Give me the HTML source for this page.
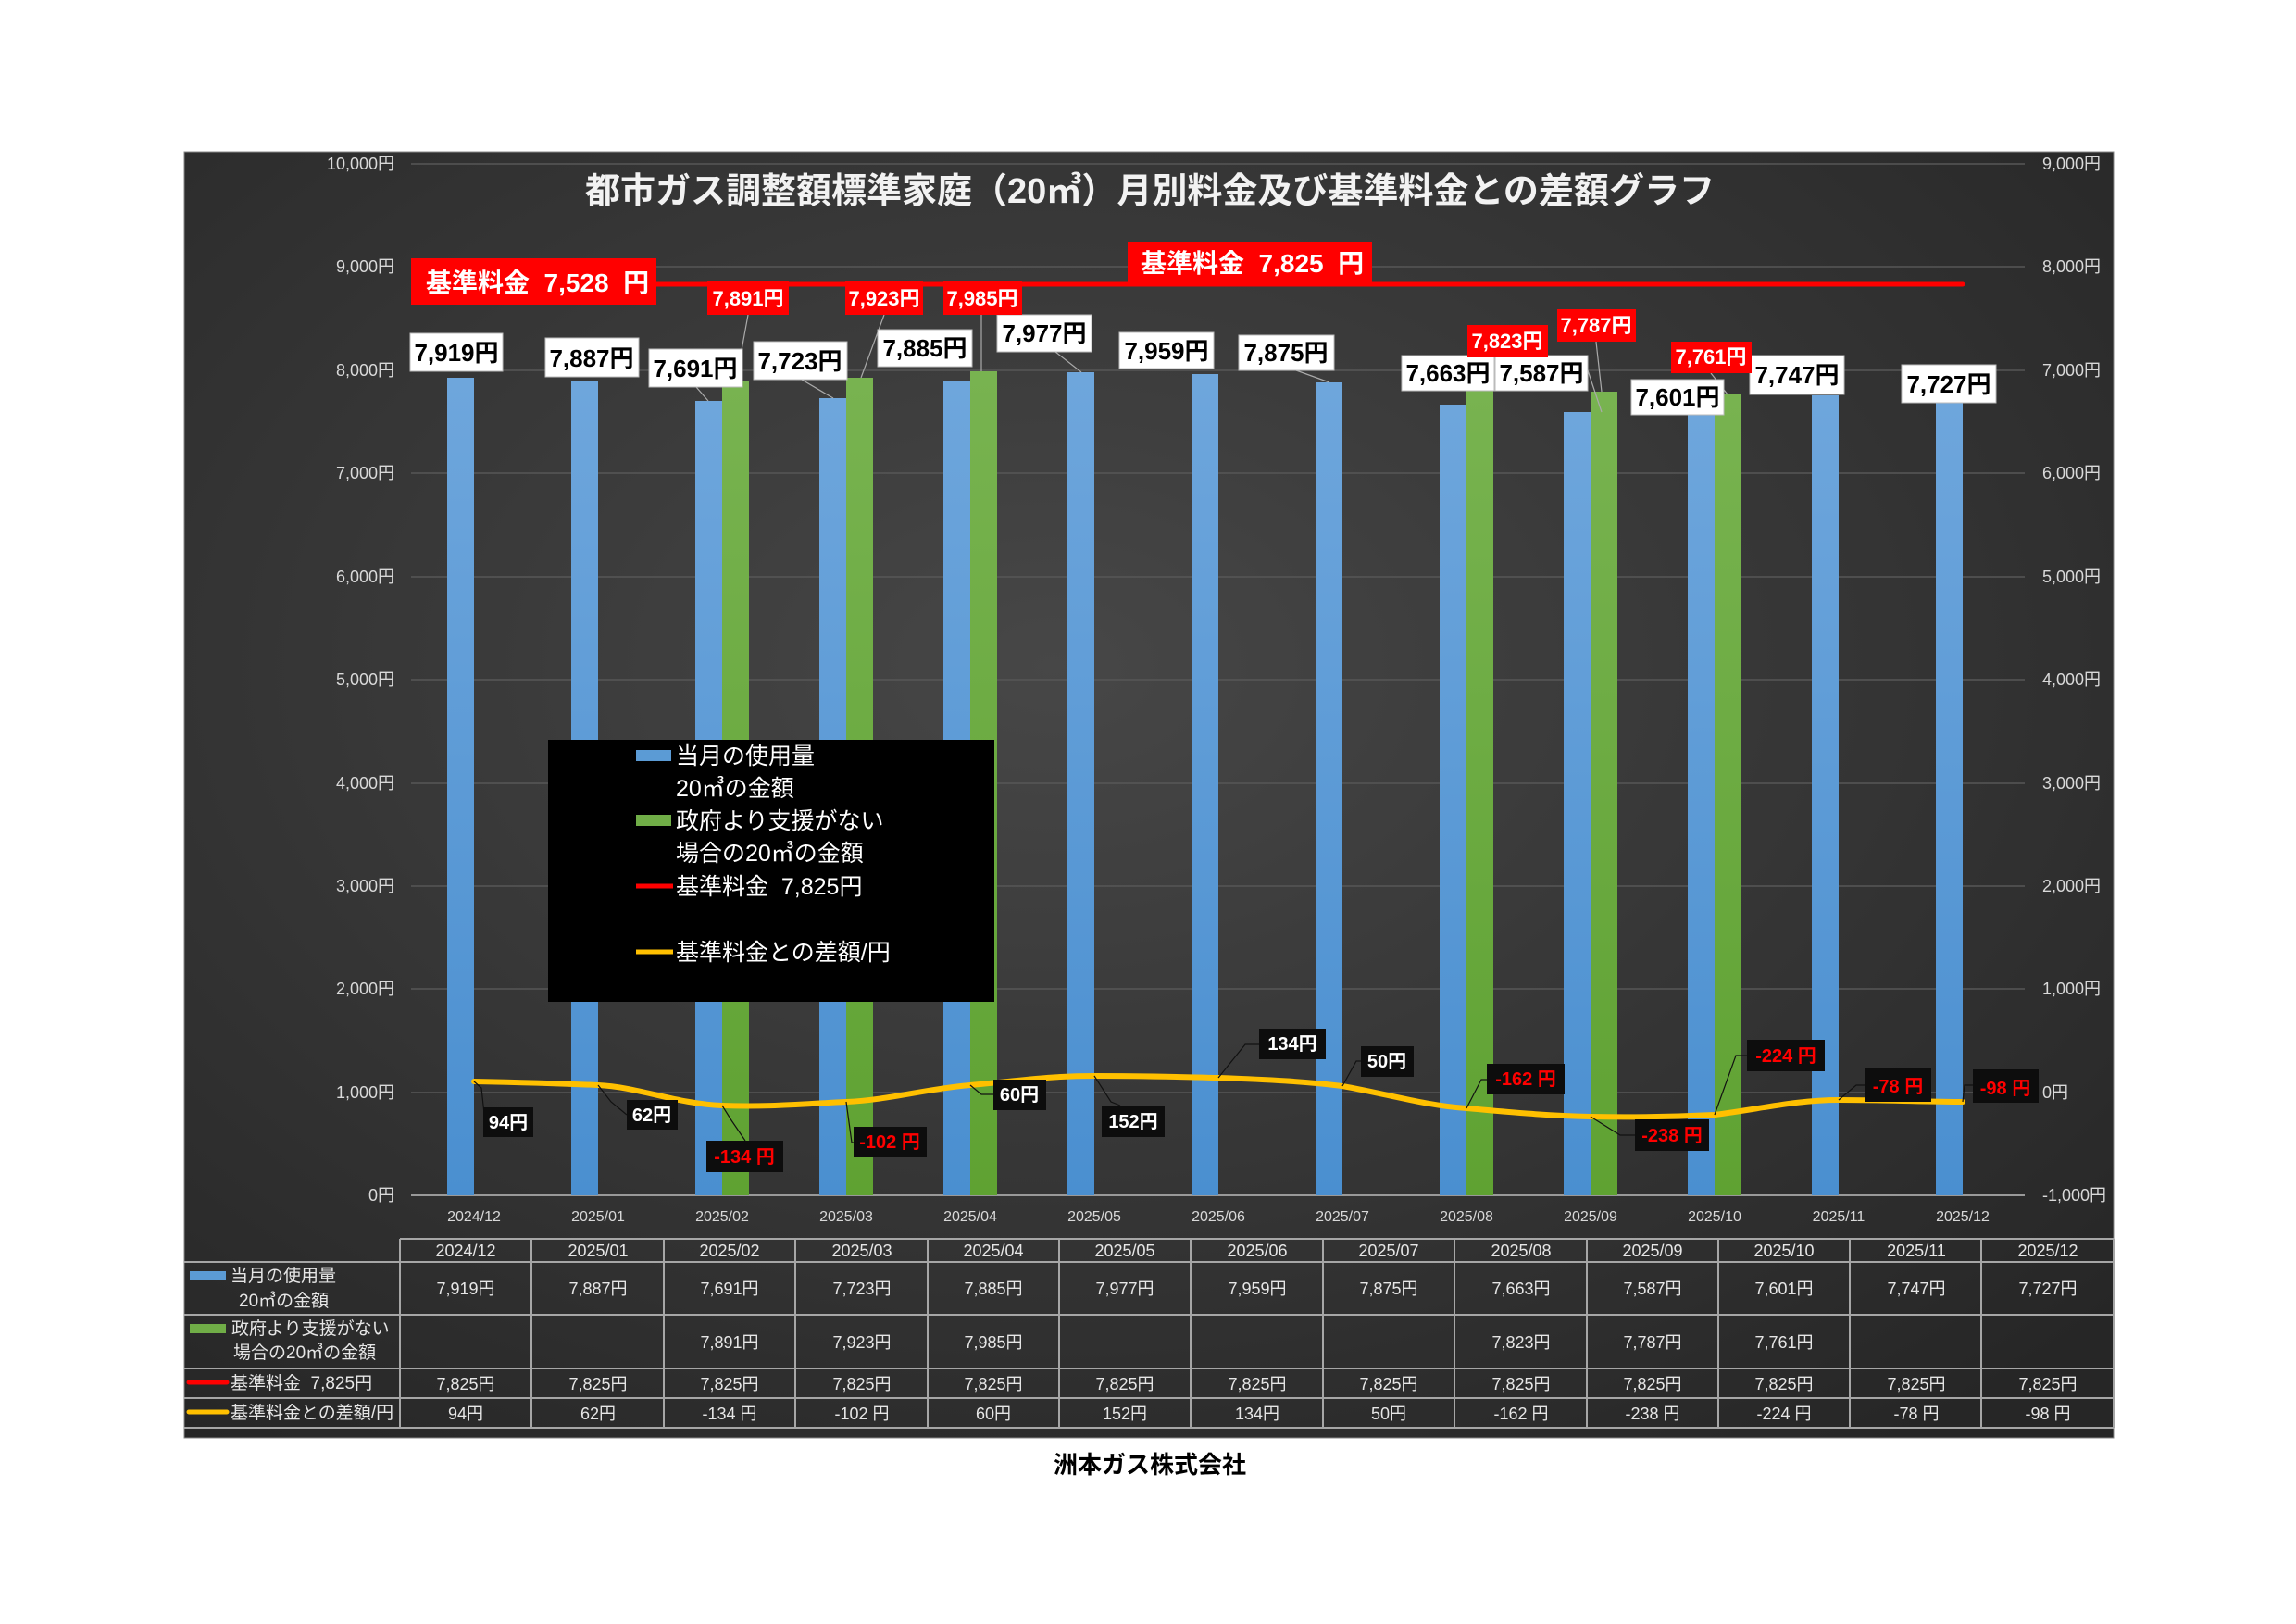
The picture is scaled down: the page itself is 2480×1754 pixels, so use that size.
<!DOCTYPE html>
<html><head><meta charset="utf-8"><style>
html,body{margin:0;padding:0;background:#fff;}
svg{display:block;font-family:"Liberation Sans","Noto Sans CJK JP",sans-serif;}
</style></head><body>
<svg width="2480" height="1754" viewBox="0 0 2480 1754" xmlns="http://www.w3.org/2000/svg">
<defs>
<radialGradient id="bg" cx="0.45" cy="0.4" r="0.75">
<stop offset="0" stop-color="#474747"/><stop offset="1" stop-color="#262626"/>
</radialGradient>
<linearGradient id="bl" x1="0" y1="0" x2="0" y2="1"><stop offset="0" stop-color="#6ea6dc"/><stop offset="1" stop-color="#4a8fd0"/></linearGradient>
<linearGradient id="gr" x1="0" y1="0" x2="0" y2="1"><stop offset="0" stop-color="#78b350"/><stop offset="1" stop-color="#5fa232"/></linearGradient>
</defs>
<rect x="0" y="0" width="2480" height="1754" fill="#fff"/>
<rect x="199" y="164" width="2084" height="1389" fill="url(#bg)" stroke="#888" stroke-width="1"/>

<!-- gridlines -->
<g stroke="#575757" stroke-width="1.5">
<line x1="444" y1="177" x2="2187" y2="177"/><line x1="444" y1="288" x2="2187" y2="288"/>
<line x1="444" y1="400" x2="2187" y2="400"/><line x1="444" y1="511" x2="2187" y2="511"/>
<line x1="444" y1="623" x2="2187" y2="623"/><line x1="444" y1="734" x2="2187" y2="734"/>
<line x1="444" y1="846" x2="2187" y2="846"/><line x1="444" y1="957" x2="2187" y2="957"/>
<line x1="444" y1="1068" x2="2187" y2="1068"/><line x1="444" y1="1180" x2="2187" y2="1180"/>
</g>
<line x1="444" y1="1291" x2="2187" y2="1291" stroke="#999" stroke-width="2"/>

<!-- left axis -->
<g fill="#d9d9d9" font-size="18" text-anchor="end">
<text x="426" y="183">10,000円</text><text x="426" y="294">9,000円</text><text x="426" y="406">8,000円</text>
<text x="426" y="517">7,000円</text><text x="426" y="629">6,000円</text><text x="426" y="740">5,000円</text>
<text x="426" y="852">4,000円</text><text x="426" y="963">3,000円</text><text x="426" y="1074">2,000円</text>
<text x="426" y="1186">1,000円</text><text x="426" y="1297">0円</text>
</g>
<!-- right axis -->
<g fill="#d9d9d9" font-size="18">
<text x="2206" y="183">9,000円</text><text x="2206" y="294">8,000円</text><text x="2206" y="406">7,000円</text>
<text x="2206" y="517">6,000円</text><text x="2206" y="629">5,000円</text><text x="2206" y="740">4,000円</text>
<text x="2206" y="852">3,000円</text><text x="2206" y="963">2,000円</text><text x="2206" y="1074">1,000円</text>
<text x="2206" y="1186">0円</text><text x="2206" y="1297">-1,000円</text>
</g>
<!-- x labels -->
<g fill="#d9d9d9" font-size="16" text-anchor="middle">
<text x="512" y="1319">2024/12</text><text x="646" y="1319">2025/01</text><text x="780" y="1319">2025/02</text>
<text x="914" y="1319">2025/03</text><text x="1048" y="1319">2025/04</text><text x="1182" y="1319">2025/05</text>
<text x="1316" y="1319">2025/06</text><text x="1450" y="1319">2025/07</text><text x="1584" y="1319">2025/08</text>
<text x="1718" y="1319">2025/09</text><text x="1852" y="1319">2025/10</text><text x="1986" y="1319">2025/11</text>
<text x="2120" y="1319">2025/12</text>
</g>

<!-- bars -->
<g fill="url(#bl)">
<rect x="483" y="408" width="29" height="883"/><rect x="617" y="412" width="29" height="879"/>
<rect x="751" y="433" width="29" height="858"/><rect x="885" y="430" width="29" height="861"/>
<rect x="1019" y="412" width="29" height="879"/><rect x="1153" y="402" width="29" height="889"/>
<rect x="1287" y="404" width="29" height="887"/><rect x="1421" y="413" width="29" height="878"/>
<rect x="1555" y="437" width="29" height="854"/><rect x="1689" y="445" width="29" height="846"/>
<rect x="1823" y="443" width="29" height="848"/><rect x="1957" y="427" width="29" height="864"/>
<rect x="2091" y="429" width="29" height="862"/>
</g>
<g fill="url(#gr)">
<rect x="780" y="411" width="29" height="880"/><rect x="914" y="408" width="29" height="883"/>
<rect x="1048" y="401" width="29" height="890"/><rect x="1584" y="419" width="29" height="872"/>
<rect x="1718" y="423" width="29" height="868"/><rect x="1852" y="426" width="29" height="865"/>
</g>

<!-- red base line -->
<line x1="512" y1="307" x2="2120" y2="307" stroke="#ff0000" stroke-width="5" stroke-linecap="round"/>

<!-- leader lines -->
<g stroke="#aaa" stroke-width="1.2" fill="none">
<line x1="752" y1="418" x2="765" y2="433"/><line x1="808" y1="340" x2="795" y2="411"/>
<line x1="866" y1="410" x2="900" y2="430"/><line x1="955" y1="340" x2="930" y2="408"/>
<line x1="1060" y1="340" x2="1060" y2="401"/><line x1="1140" y1="380" x2="1168" y2="402"/>
<line x1="1400" y1="400" x2="1436" y2="413"/><line x1="1628" y1="386" x2="1600" y2="419"/>
<line x1="1715" y1="400" x2="1730" y2="445"/><line x1="1724" y1="369" x2="1730" y2="423"/>
<line x1="1848" y1="403" x2="1866" y2="426"/>
</g>

<!-- yellow diff line -->
<path d="M512,1168 C560,1169 600,1170 646,1172 C690,1174 730,1192 780,1194 C830,1196 870,1192 914,1190 C960,1188 1000,1176 1048,1172 C1095,1168 1130,1162 1182,1162 C1240,1162 1270,1163 1316,1164 C1370,1166 1410,1168 1450,1173 C1500,1182 1540,1194 1584,1197 C1630,1201 1670,1205 1718,1206 C1770,1207 1810,1206 1852,1204 C1900,1198 1940,1188 1986,1188 C2040,1188 2080,1190 2120,1190" fill="none" stroke="#ffc000" stroke-width="6" stroke-linecap="round"/>
<g stroke="#111" stroke-width="1.2" fill="none">
<polyline points="512,1168 520,1175 524,1212"/><polyline points="646,1172 660,1190 677,1204"/>
<polyline points="780,1194 790,1210 805,1232"/><polyline points="914,1190 920,1234 922,1234"/>
<polyline points="1048,1172 1060,1182 1073,1182"/><polyline points="1182,1162 1200,1190 1210,1194"/>
<polyline points="1316,1164 1345,1128 1360,1128"/><polyline points="1450,1173 1465,1146 1470,1146"/>
<polyline points="1584,1197 1600,1166 1606,1166"/><polyline points="1718,1206 1750,1226 1766,1226"/>
<polyline points="1852,1204 1875,1140 1887,1140"/><polyline points="1986,1188 2005,1172 2014,1172"/>
<polyline points="2120,1190 2122,1172 2131,1172"/>
</g>

<!-- white value labels -->
<g fill="#fff" stroke="#bbb" stroke-width="1">
<rect x="443" y="360" width="100" height="41"/><rect x="589" y="365" width="101" height="42"/>
<rect x="701" y="377" width="101" height="41"/><rect x="814" y="369" width="101" height="41"/>
<rect x="948" y="356" width="102" height="40"/><rect x="1077" y="340" width="102" height="40"/>
<rect x="1209" y="359" width="102" height="39"/><rect x="1338" y="362" width="103" height="38"/>
<rect x="1514" y="384" width="100" height="38"/><rect x="1615" y="384" width="100" height="38"/>
<rect x="1762" y="410" width="100" height="38"/><rect x="1890" y="384" width="102" height="42"/>
<rect x="2054" y="394" width="102" height="41"/>
</g>
<g fill="#000" font-size="26" font-weight="bold" text-anchor="middle">
<text x="493" y="390">7,919円</text><text x="639" y="396">7,887円</text>
<text x="751" y="407">7,691円</text><text x="864" y="399">7,723円</text>
<text x="999" y="385">7,885円</text><text x="1128" y="369">7,977円</text>
<text x="1260" y="388">7,959円</text><text x="1389" y="390">7,875円</text>
<text x="1564" y="412">7,663円</text><text x="1665" y="412">7,587円</text>
<text x="1812" y="438">7,601円</text><text x="1941" y="414">7,747円</text>
<text x="2105" y="424">7,727円</text>
</g>

<!-- red labels -->
<g fill="#ff0000">
<rect x="764" y="304" width="88" height="36"/><rect x="913" y="304" width="84" height="36"/>
<rect x="1019" y="304" width="85" height="36"/><rect x="1585" y="351" width="87" height="35"/>
<rect x="1682" y="334" width="85" height="35"/><rect x="1805" y="369" width="87" height="34"/>
<rect x="444" y="279" width="265" height="50"/><rect x="1218" y="261" width="264" height="44"/>
</g>
<g fill="#fff" font-size="22" font-weight="bold" text-anchor="middle">
<text x="808" y="330">7,891円</text><text x="955" y="330">7,923円</text>
<text x="1061" y="330">7,985円</text><text x="1628" y="376">7,823円</text>
<text x="1724" y="359">7,787円</text><text x="1848" y="393">7,761円</text>
</g>
<g fill="#fff" font-size="28" font-weight="bold">
<text x="460" y="315" xml:space="preserve">基準料金  7,528  円</text>
<text x="1232" y="294" xml:space="preserve">基準料金  7,825  円</text>
</g>

<!-- diff labels -->
<g fill="#0d0d0d">
<rect x="522" y="1196" width="54" height="32"/><rect x="677" y="1188" width="55" height="32"/>
<rect x="763" y="1232" width="83" height="34"/><rect x="922" y="1217" width="79" height="33"/>
<rect x="1073" y="1166" width="57" height="33"/><rect x="1190" y="1194" width="68" height="34"/>
<rect x="1360" y="1111" width="72" height="33"/><rect x="1470" y="1130" width="57" height="33"/>
<rect x="1606" y="1149" width="84" height="33"/><rect x="1766" y="1209" width="80" height="34"/>
<rect x="1887" y="1123" width="84" height="34"/><rect x="2014" y="1153" width="72" height="37"/>
<rect x="2131" y="1155" width="71" height="36"/>
</g>
<g font-size="20" font-weight="bold" text-anchor="middle">
<text x="549" y="1219" fill="#fff">94円</text><text x="704" y="1211" fill="#fff">62円</text>
<text x="804" y="1256" fill="#ff0000">-134 円</text><text x="961" y="1240" fill="#ff0000">-102 円</text>
<text x="1101" y="1189" fill="#fff">60円</text><text x="1224" y="1218" fill="#fff">152円</text>
<text x="1396" y="1134" fill="#fff">134円</text><text x="1498" y="1153" fill="#fff">50円</text>
<text x="1648" y="1172" fill="#ff0000">-162 円</text><text x="1806" y="1233" fill="#ff0000">-238 円</text>
<text x="1929" y="1147" fill="#ff0000">-224 円</text><text x="2050" y="1180" fill="#ff0000">-78 円</text>
<text x="2166" y="1182" fill="#ff0000">-98 円</text>
</g>

<!-- title -->
<text x="1242" y="219" fill="#f2f2f2" font-size="38" font-weight="bold" text-anchor="middle">都市ガス調整額標準家庭（20㎥）月別料金及び基準料金との差額グラフ</text>

<!-- legend -->
<rect x="592" y="799" width="482" height="283" fill="#000"/>
<rect x="687" y="810" width="38" height="12" fill="#5b9bd5"/>
<rect x="687" y="880" width="38" height="12" fill="#70ad47"/>
<line x1="687" y1="957" x2="727" y2="957" stroke="#ff0000" stroke-width="5"/>
<line x1="687" y1="1028" x2="727" y2="1028" stroke="#ffc000" stroke-width="5"/>
<g fill="#fff" font-size="25">
<text x="730" y="825">当月の使用量</text>
<text x="730" y="860">20㎥の金額</text>
<text x="730" y="895">政府より支援がない</text>
<text x="730" y="930">場合の20㎥の金額</text>
<text x="730" y="966" xml:space="preserve">基準料金  7,825円</text>
<text x="730" y="1037">基準料金との差額/円</text>
</g>

<!-- table -->
<g stroke="#a6a6a6" stroke-width="2" fill="none">
<line x1="432" y1="1338" x2="2283" y2="1338"/>
<line x1="199" y1="1363" x2="2283" y2="1363"/>
<line x1="199" y1="1420" x2="2283" y2="1420"/>
<line x1="199" y1="1478" x2="2283" y2="1478"/>
<line x1="199" y1="1510" x2="2283" y2="1510"/>
<line x1="199" y1="1542" x2="2283" y2="1542"/>
<line x1="432" y1="1338" x2="432" y2="1542"/><line x1="574" y1="1338" x2="574" y2="1542"/>
<line x1="717" y1="1338" x2="717" y2="1542"/><line x1="859" y1="1338" x2="859" y2="1542"/>
<line x1="1002" y1="1338" x2="1002" y2="1542"/><line x1="1144" y1="1338" x2="1144" y2="1542"/>
<line x1="1286" y1="1338" x2="1286" y2="1542"/><line x1="1429" y1="1338" x2="1429" y2="1542"/>
<line x1="1571" y1="1338" x2="1571" y2="1542"/><line x1="1714" y1="1338" x2="1714" y2="1542"/>
<line x1="1856" y1="1338" x2="1856" y2="1542"/><line x1="1998" y1="1338" x2="1998" y2="1542"/>
<line x1="2140" y1="1338" x2="2140" y2="1542"/><line x1="2283" y1="1338" x2="2283" y2="1542"/>
</g>
<rect x="205" y="1373" width="39" height="10" fill="#5b9bd5"/>
<rect x="205" y="1430" width="39" height="10" fill="#70ad47"/>
<line x1="204" y1="1493" x2="245" y2="1493" stroke="#ff0000" stroke-width="5" stroke-linecap="round"/>
<line x1="204" y1="1525" x2="245" y2="1525" stroke="#ffc000" stroke-width="5" stroke-linecap="round"/>
<g fill="#e6e6e6" font-size="19">
<text x="249" y="1384">当月の使用量</text>
<text x="258" y="1411">20㎥の金額</text>
<text x="250" y="1441">政府より支援がない</text>
<text x="252" y="1467">場合の20㎥の金額</text>
<text x="249" y="1500" xml:space="preserve">基準料金  7,825円</text>
<text x="249" y="1532">基準料金との差額/円</text>
</g>
<g fill="#e6e6e6" font-size="18" text-anchor="middle">
<text x="503" y="1357">2024/12</text><text x="646" y="1357">2025/01</text><text x="788" y="1357">2025/02</text><text x="931" y="1357">2025/03</text><text x="1073" y="1357">2025/04</text><text x="1215" y="1357">2025/05</text><text x="1358" y="1357">2025/06</text><text x="1500" y="1357">2025/07</text><text x="1643" y="1357">2025/08</text><text x="1785" y="1357">2025/09</text><text x="1927" y="1357">2025/10</text><text x="2070" y="1357">2025/11</text><text x="2212" y="1357">2025/12</text>
<text x="503" y="1398">7,919円</text><text x="646" y="1398">7,887円</text><text x="788" y="1398">7,691円</text><text x="931" y="1398">7,723円</text><text x="1073" y="1398">7,885円</text><text x="1215" y="1398">7,977円</text><text x="1358" y="1398">7,959円</text><text x="1500" y="1398">7,875円</text><text x="1643" y="1398">7,663円</text><text x="1785" y="1398">7,587円</text><text x="1927" y="1398">7,601円</text><text x="2070" y="1398">7,747円</text><text x="2212" y="1398">7,727円</text>
<text x="788" y="1456">7,891円</text><text x="931" y="1456">7,923円</text><text x="1073" y="1456">7,985円</text><text x="1643" y="1456">7,823円</text><text x="1785" y="1456">7,787円</text><text x="1927" y="1456">7,761円</text>
<text x="503" y="1501">7,825円</text><text x="646" y="1501">7,825円</text><text x="788" y="1501">7,825円</text><text x="931" y="1501">7,825円</text><text x="1073" y="1501">7,825円</text><text x="1215" y="1501">7,825円</text><text x="1358" y="1501">7,825円</text><text x="1500" y="1501">7,825円</text><text x="1643" y="1501">7,825円</text><text x="1785" y="1501">7,825円</text><text x="1927" y="1501">7,825円</text><text x="2070" y="1501">7,825円</text><text x="2212" y="1501">7,825円</text>
<text x="503" y="1533">94円</text><text x="646" y="1533">62円</text><text x="788" y="1533">-134 円</text><text x="931" y="1533">-102 円</text><text x="1073" y="1533">60円</text><text x="1215" y="1533">152円</text><text x="1358" y="1533">134円</text><text x="1500" y="1533">50円</text><text x="1643" y="1533">-162 円</text><text x="1785" y="1533">-238 円</text><text x="1927" y="1533">-224 円</text><text x="2070" y="1533">-78 円</text><text x="2212" y="1533">-98 円</text>
</g>

<text x="1242" y="1591" fill="#000" font-size="26" font-weight="bold" text-anchor="middle">洲本ガス株式会社</text>
</svg>
</body></html>
